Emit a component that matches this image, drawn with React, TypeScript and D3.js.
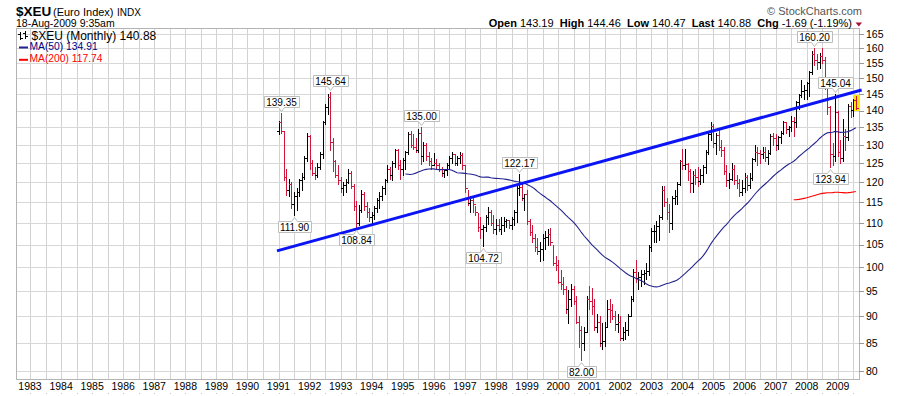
import React, { useEffect, useRef } from "react";
import * as d3 from "d3";

// monthly bars, Jan 1991 .. Aug 2009
const firstYear = 1991;
const firstOpen = 134.0;

const highs = [
  137, 139.35, 134, 123.5, 121, 120, 117.5, 118.5, 121, 122.5, 127, 133.4, // 1991
  132.9, 126, 124, 125, 128, 137, 142, 145, 145.64, 132, 126, 124.5, // 1992
  121.5, 120, 121, 123.5, 123, 119.5, 115.3, 114.3, 118, 117.5, 115, 113.5, // 1993
  112.5, 114, 116, 117.5, 119, 121, 124.5, 124, 125.5, 129, 129, 126, // 1994
  126.5, 128.4, 133.6, 134, 133, 132, 134.5, 135, 131, 130.5, 128, 126.5, // 1995
  127.8, 126.2, 125, 124, 123.6, 125, 127, 128, 127.5, 127, 128, 127.8, // 1996
  124.5, 118, 116.5, 116.5, 114, 112.4, 111.5, 109.6, 111.9, 113.9, 113, 112, // 1997
  111, 111, 111.5, 111.5, 111, 110.7, 111.5, 113, 119.5, 122.17, 119.8, 117, // 1998
  118, 111, 109.5, 107.4, 106.5, 105.5, 107.4, 108, 108.5, 108.8, 105, 102.5, // 1999
  101.5, 99.5, 98, 96, 95.3, 96.5, 96, 94, 90, 88.1, 87.9, 94, // 2000
  96, 95.6, 93.5, 90.5, 90, 88.8, 89, 93.3, 93.5, 92.5, 91, 90.5, // 2001
  90, 88, 89, 90.5, 94, 99.7, 101.5, 99, 99.5, 99.5, 101, 105, // 2002
  108.8, 109.5, 110.5, 112, 119, 119, 116, 114.5, 116.5, 118, 120, 126, // 2003
  129, 129, 125, 123.5, 123, 123.5, 124, 123.5, 124.5, 128.5, 133.4, 136.6, // 2004
  136, 133.5, 134.7, 131.5, 129.5, 124.5, 122.5, 125, 124.5, 122, 121, 120.5, // 2005
  122.5, 122, 122.5, 126.5, 130, 129.5, 128.5, 129.5, 129.5, 128.5, 133, 133.5, // 2006
  133, 132.5, 134, 137, 136.5, 135.5, 138.5, 138, 143, 145, 149.4, 148, // 2007
  149, 152.5, 159, 160.2, 158, 158.5, 160.1, 157, 148, 141.5, 130.5, 145.04, // 2008
  140, 131.5, 137.5, 134.5, 142, 142.5, 143.5, 144.46, // 2009
];

const lows = [
  133, 133.4, 120.5, 116.8, 116.5, 113.5, 111.9, 113, 116.5, 118, 121, 125.5,
  123.5, 121.8, 121, 121.5, 123.5, 126.5, 136, 139, 128.5, 123, 121.3, 119.5,
  117.5, 116.8, 117.5, 119.8, 118.5, 113, 108.84, 109.5, 112.5, 113, 111.5, 110.5,
  110, 111, 112.5, 113.5, 115.5, 117, 120, 121, 120.5, 124, 123.5, 121,
  122, 123.5, 127.4, 129.4, 128.8, 128, 128, 124.8, 125.5, 126, 124.5, 123.5,
  124.5, 123.5, 123, 121.7, 121.5, 122, 123.5, 125, 124.5, 124.5, 125, 123.6,
  117.5, 114.3, 112.6, 112.5, 112, 108, 106.5, 104.72, 108, 109.7, 109.5, 107.6,
  107.5, 108, 107.4, 108, 109, 108.8, 108.5, 109.5, 110.3, 116.8, 115.5, 113.2,
  109.7, 107.3, 105.6, 103.6, 102.8, 101.4, 101.5, 104, 105, 104.8, 100.4, 99.5,
  96.6, 95.5, 94.5, 90.7, 88.8, 92, 92.5, 88.8, 84.3, 82, 83.7, 87,
  91.5, 90.5, 87.5, 87, 84.5, 84, 84.5, 88, 89, 89.5, 87.5, 87,
  85.5, 85.5, 85.8, 86.5, 90, 93, 97, 95.5, 96, 96.5, 97.5, 98.3,
  103.5, 105.5, 105.6, 106, 111, 114, 111, 107.8, 108.5, 114.5, 114.5, 119.4,
  123.5, 123.5, 120.5, 117.5, 117.5, 119.5, 119, 119.5, 120, 122.5, 127.5, 131.5,
  129.5, 127.5, 128.5, 127, 122.3, 119, 118.5, 120.5, 119.5, 118.5, 116.5, 116.8,
  117.5, 118, 118.5, 120.5, 125.5, 124.5, 125, 126.5, 125.5, 124.8, 127.5, 130,
  128.5, 128.8, 130.5, 133, 133.5, 132.5, 134, 132.5, 135, 140.5, 144, 143.5,
  143.5, 144.5, 151.5, 154.5, 153, 153.5, 155, 146.5, 139, 123.94, 124.5, 125.5,
  127, 125, 125.5, 128.5, 131.5, 138, 138.5, 140.47,
];

const closes = [
  136.5, 134, 121.5, 118, 119.5, 114.5, 116.5, 117.5, 120.5, 121.5, 126.5, 132.5,
  125, 122.5, 122, 124, 127.5, 136.5, 141, 144, 131, 125.5, 122, 120.5,
  118.5, 119.3, 120.2, 122.5, 119, 114, 110, 113, 117, 114, 112.5, 111.5,
  112, 113.5, 115.5, 116.5, 118.5, 120.5, 123.5, 122, 125, 128.5, 124.5, 123.5,
  126, 128, 133, 130, 129.5, 128.5, 133.5, 127, 130, 127, 125.5, 124.5,
  125, 124.5, 123.5, 122.5, 123.2, 124.5, 126.5, 127.5, 125, 126.5, 127.2, 124.5,
  118.5, 114.8, 115.5, 114.5, 112.5, 109, 108.5, 109, 111.5, 112.5, 110, 108.5,
  109.5, 108.5, 109.5, 110.5, 110.8, 109.5, 111, 112.5, 118.5, 118.8, 116, 117,
  110.5, 107.8, 106.5, 104.5, 103.5, 104, 106.5, 106.8, 107.5, 105.5, 101, 100.5,
  97, 96.5, 95.5, 91.5, 93.5, 95.5, 93, 89, 87.5, 85, 87, 93.5,
  93, 92, 88, 89, 85, 85.3, 88, 91.5, 91.2, 90, 88.5, 89,
  86, 87, 87.5, 90, 93.5, 99, 97.8, 97.9, 98.5, 98.8, 99.2, 104.5,
  108, 108.1, 109.2, 111.5, 118, 115, 112.5, 110, 116, 116.5, 119.5, 125.5,
  124.5, 124.8, 123, 119.8, 122, 121.5, 120.3, 121.8, 124, 128, 133, 135.5,
  130.5, 132.8, 129.5, 128.5, 123, 120.5, 121, 123.5, 120.5, 119.8, 117.5, 118.5,
  121.5, 119.2, 121.2, 126.2, 128, 127.8, 127.6, 128.2, 126.8, 127.8, 132.5, 132,
  130, 132.2, 133.5, 136.5, 134.5, 135.2, 136.8, 136.5, 142.5, 144.8, 146, 146.2,
  148.5, 152, 158, 156, 155.5, 157.5, 156, 147, 141, 127.5, 127, 139.7,
  128, 126.5, 132.5, 132.3, 141.5, 140.3, 143.19, 140.88,
];

const priceTicks = [80, 85, 90, 95, 100, 105, 110, 115, 120, 125, 130, 135, 140, 145, 150, 155, 160, 165];
const yearTicks = [
  1983, 1984, 1985, 1986, 1987, 1988, 1989, 1990, 1991, 1992, 1993, 1994, 1995,
  1996, 1997, 1998, 1999, 2000, 2001, 2002, 2003, 2004, 2005, 2006, 2007, 2008, 2009,
];

// peak / trough labels: bar index and which end of the bar
const calloutBars = [1, 6, 20, 30, 55, 79, 93, 117, 207, 213, 215];
const calloutSides = ["high", "low", "high", "low", "high", "low", "high", "low", "high", "low", "high"];

// hand drawn trend line [decimal year, price]
const trendStart = [1990.95, 103.6];
const trendEnd = [2009.77, 146.3];

const maPeriods = [50, 200];
const maColors = ["#23238f", "#ff0000"];

const FONT = "'Liberation Sans', Arial, sans-serif";

function movingAverage(values, n) {
  const out = [];
  for (let i = n - 1; i < values.length; i++) {
    out.push({ i, v: d3.mean(values.slice(i - n + 1, i + 1)) });
  }
  return out;
}

export default function App() {
  const svgRef = useRef(null);
  const width = 900;
  const height = 396;
  const plot = { left: 16, right: 859, top: 28, bottom: 379 };

  useEffect(() => {
    const svg = d3.select(svgRef.current);
    svg.selectAll("*").remove();

    const x = d3.scaleLinear().domain([1983, 2009]).range([30, 837.7]);
    const y = d3.scaleLog().domain([80, 165]).range([371.3, 34]);
    const px = (t) => Math.round(x(t)) + 0.5;
    const py = (v) => Math.round(y(v)) + 0.5;

    svg.append("rect").attr("width", width).attr("height", height).attr("fill", "#fff");

    // grid
    const grid = svg.append("g").attr("shape-rendering", "crispEdges");
    const halfYears = [];
    yearTicks.forEach((yr) => {
      halfYears.push(yr);
      halfYears.push(yr + 0.5);
    });
    grid
      .selectAll("line.v")
      .data(halfYears.filter((t) => x(t) > plot.left && x(t) < plot.right))
      .join("line")
      .attr("x1", (t) => px(t))
      .attr("x2", (t) => px(t))
      .attr("y1", plot.top)
      .attr("y2", plot.bottom)
      .attr("stroke", "#d2d2d2");
    grid
      .selectAll("line.h")
      .data(priceTicks)
      .join("line")
      .attr("x1", plot.left)
      .attr("x2", plot.right)
      .attr("y1", (v) => py(v))
      .attr("y2", (v) => py(v))
      .attr("stroke", "#d8d8d8");
    grid
      .append("rect")
      .attr("x", plot.left + 0.5)
      .attr("y", plot.top + 0.5)
      .attr("width", plot.right - plot.left)
      .attr("height", plot.bottom - plot.top)
      .attr("fill", "none")
      .attr("stroke", "#b4b4b4");

    // right price axis
    const axis = svg.append("g");
    priceTicks.forEach((v) => {
      axis
        .append("line")
        .attr("x1", plot.right)
        .attr("x2", plot.right + 5)
        .attr("y1", py(v))
        .attr("y2", py(v))
        .attr("stroke", "#999")
        .attr("shape-rendering", "crispEdges");
      axis
        .append("text")
        .attr("x", 866)
        .attr("y", y(v) + 3.6)
        .attr("font-family", FONT)
        .attr("font-size", 10.5)
        .attr("fill", "#000")
        .text(v);
    });

    // year axis
    yearTicks.forEach((yr) => {
      axis
        .append("text")
        .attr("x", x(yr))
        .attr("y", 390)
        .attr("text-anchor", "middle")
        .attr("font-family", FONT)
        .attr("font-size", 10.5)
        .attr("fill", "#000")
        .text(yr);
    });
    halfYears
      .filter((t) => x(t) > plot.left && x(t) < plot.right)
      .forEach((t) => {
        axis
          .append("rect")
          .attr("x", Math.round(x(t)))
          .attr("y", 393)
          .attr("width", 1)
          .attr("height", 1)
          .attr("fill", "#c4c4c4");
      });

    // OHLC bars
    const bars = closes.map((c, i) => {
      const o = i === 0 ? firstOpen : closes[i - 1];
      return { t: firstYear + i / 12, o, h: highs[i], l: lows[i], c, up: c >= o };
    });

    const last = bars[bars.length - 1];
    svg
      .append("rect")
      .attr("x", Math.round(x(last.t)) - 2)
      .attr("y", Math.round(y(last.h)) - 1)
      .attr("width", 6)
      .attr("height", Math.round(y(last.l)) - Math.round(y(last.h)) + 3)
      .attr("fill", "#ffe800");

    const barG = svg.append("g").attr("shape-rendering", "crispEdges");
    bars.forEach((d) => {
      const bx = Math.round(x(d.t));
      const col = d.up ? "#000000" : "#d1163c";
      const yh = Math.round(y(d.h));
      const yl = Math.round(y(d.l));
      barG.append("rect").attr("x", bx).attr("y", yh).attr("width", 1).attr("height", yl - yh + 1).attr("fill", col);
      barG.append("rect").attr("x", bx - 2).attr("y", Math.round(y(d.o))).attr("width", 2).attr("height", 1).attr("fill", col);
      barG.append("rect").attr("x", bx + 1).attr("y", Math.round(y(d.c))).attr("width", 2).attr("height", 1).attr("fill", col);
    });

    // moving averages
    maPeriods.forEach((n, k) => {
      const ma = movingAverage(closes, n);
      const line = d3
        .line()
        .x((d) => x(firstYear + d.i / 12))
        .y((d) => y(d.v));
      svg
        .append("path")
        .attr("d", line(ma))
        .attr("fill", "none")
        .attr("stroke", maColors[k])
        .attr("stroke-width", 1.1);
    });

    // trend line
    svg
      .append("line")
      .attr("x1", x(trendStart[0]))
      .attr("y1", y(trendStart[1]))
      .attr("x2", x(trendEnd[0]))
      .attr("y2", y(trendEnd[1]))
      .attr("stroke", "#0a14f5")
      .attr("stroke-width", 3);

    // callouts
    calloutBars.forEach((i, k) => {
      const side = calloutSides[k];
      const v = side === "high" ? highs[i] : lows[i];
      const cx = Math.round(x(firstYear + i / 12)) + 0.5;
      const vy = Math.round(y(v));
      const g = svg.append("g");
      const shape = g.append("path");
      const txt = g
        .append("text")
        .attr("x", cx)
        .attr("text-anchor", "middle")
        .attr("font-family", FONT)
        .attr("font-size", 10)
        .attr("fill", "#000")
        .text(v.toFixed(2));
      const tw = txt.node().getComputedTextLength();
      const bw = Math.round(tw + 4);
      const bh = 11;
      const x0 = Math.round(cx - bw / 2) + 0.5;
      const x1 = x0 + bw;
      let yt;
      let yb;
      let d;
      if (side === "high") {
        yb = vy - 6 + 0.5;
        yt = yb - bh;
        d = `M${x0},${yt}H${x1}V${yb}H${cx + 3}L${cx},${yb + 4}L${cx - 3},${yb}H${x0}Z`;
      } else {
        yt = vy + 6 + 0.5;
        yb = yt + bh;
        d = `M${x0},${yt}H${cx - 3}L${cx},${yt - 4}L${cx + 3},${yt}H${x1}V${yb}H${x0}Z`;
      }
      shape.attr("d", d).attr("fill", "#fff").attr("stroke", "#bdbdbd");
      txt.attr("y", yb - 2);
    });

    // legend inside plot
    const lg = svg.append("g");
    lg.append("path")
      .attr("d", "M20.5,32V40M18,34H20.5M20.5,38H23M25.5,31V39M23,33H25.5M25.5,36H28")
      .attr("stroke", "#000")
      .attr("fill", "none")
      .attr("shape-rendering", "crispEdges");
    lg.append("text")
      .attr("x", 31.5)
      .attr("y", 39.5)
      .attr("font-family", FONT)
      .attr("font-size", 12)
      .attr("fill", "#000")
      .text("$XEU (Monthly) 140.88");
    const maLabels = ["MA(50) 134.91", "MA(200) 117.74"];
    maLabels.forEach((s, k) => {
      const yy = 50 + k * 12.3;
      lg.append("rect").attr("x", 19).attr("y", yy - 3.5).attr("width", 9).attr("height", 2).attr("fill", maColors[k]);
      lg.append("text")
        .attr("x", 29.5)
        .attr("y", yy)
        .attr("font-family", FONT)
        .attr("font-size", 10.3)
        .attr("fill", k === 0 ? "#000080" : "#ff0000")
        .text(s);
    });

    // header
    const hd = svg.append("g").attr("font-family", FONT).attr("fill", "#000");
    hd.append("text").attr("x", 16).attr("y", 15.5).attr("font-size", 13.5).attr("font-weight", "bold").text("$XEU");
    hd.append("text").attr("x", 53).attr("y", 15.5).attr("font-size", 11).text("(Euro Index)");
    hd.append("text").attr("x", 117).attr("y", 15.5).attr("font-size", 10).text("INDX");
    hd.append("text").attr("x", 16).attr("y", 27).attr("font-size", 10.5).text("18-Aug-2009 9:35am");
    hd.append("text")
      .attr("x", 862)
      .attr("y", 14.5)
      .attr("text-anchor", "end")
      .attr("font-size", 11)
      .attr("fill", "#555")
      .text("\u00a9 StockCharts.com");

    const quote = [
      ["Open", "143.19"],
      ["High", "144.46"],
      ["Low", "140.47"],
      ["Last", "140.88"],
      ["Chg", "-1.69 (-1.19%)"],
    ];
    const qt = hd.append("text").attr("x", 852).attr("y", 27).attr("text-anchor", "end").attr("font-size", 11);
    quote.forEach(([k, v], j) => {
      qt.append("tspan").attr("font-weight", "bold").text((j > 0 ? "  " : "") + k + " ");
      qt.append("tspan").text(v);
    });
    qt.attr("xml:space", "preserve").style("white-space", "pre");
    hd.append("path").attr("d", "M855.5,22.5H862L858.75,26.5Z").attr("fill", "#a3123c");
  }, []);

  return (
    <svg
      ref={svgRef}
      width={width}
      height={height}
      style={{ position: "absolute", left: 0, top: 0, display: "block" }}
    />
  );
}
